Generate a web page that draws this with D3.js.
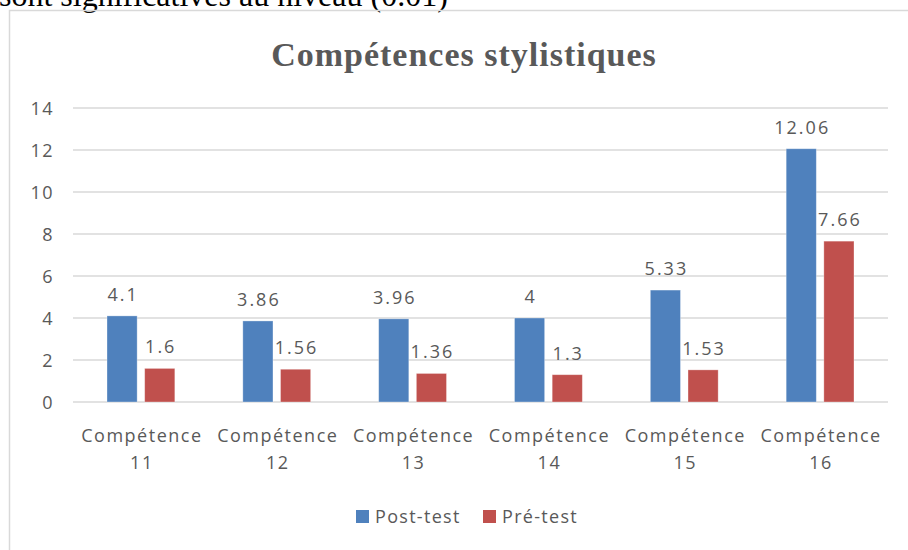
<!DOCTYPE html>
<html>
<head>
<meta charset="utf-8">
<script src="https://cdn.jsdelivr.net/npm/d3@7"></script>
<style>
  body { margin: 0; background: #fff; }
  svg text { font-family: "Open Sans", sans-serif; fill: #595959; }
</style>
</head>
<body>
<svg id="chart" width="908" height="550"></svg>
<script>
// data
var categories = ["Compétence 11", "Compétence 12", "Compétence 13", "Compétence 14", "Compétence 15", "Compétence 16"];
var postTest = [4.1, 3.86, 3.96, 4, 5.33, 12.06];
var preTest = [1.6, 1.56, 1.36, 1.3, 1.53, 7.66];
var seriesNames = ["Post-test", "Pré-test"];
var colors = ["#4f81bd", "#c0504d"];
var yTicks = [0, 2, 4, 6, 8, 10, 12, 14];

var svg = d3.select("#chart");

// leftover caption from the page above the chart (cut off like in the source)
svg.append("text")
    .attr("x", -1)
    .attr("y", 6)
    .style("font-family", "'Liberation Serif', serif")
    .style("font-size", "32px")
    .style("fill", "#000")
    .text("sont significatives au niveau (0.01)");

// chart frame
svg.append("rect")
    .attr("x", 9.5).attr("y", 10.5)
    .attr("width", 1000).attr("height", 600)
    .attr("fill", "none")
    .attr("stroke", "#d9d9d9")
    .attr("stroke-width", 1.5);

svg.append("text")
    .attr("x", 464)
    .attr("y", 66)
    .attr("text-anchor", "middle")
    .style("font-family", "'Liberation Serif', serif")
    .style("font-size", "34px")
    .style("letter-spacing", "1px")
    .style("font-weight", "bold")
    .text("Compétences stylistiques");

var x0 = d3.scaleBand().domain(categories).range([73, 888]);
var x1 = d3.scaleBand().domain(seriesNames).range([34, x0.bandwidth() - 34]).paddingInner(0.2);
var y = d3.scaleLinear().domain([0, 14]).range([402, 108]);

// gridlines
svg.append("g")
    .selectAll("line")
    .data(yTicks)
    .join("line")
    .attr("x1", 73).attr("x2", 888)
    .attr("y1", function(d){ return y(d); })
    .attr("y2", function(d){ return y(d); })
    .attr("stroke", "#d9d9d9")
    .attr("stroke-width", 1.5);

// y axis labels
var yAxis = d3.axisLeft(y).tickValues(yTicks).tickSize(0).tickPadding(0);
var ya = svg.append("g").attr("transform", "translate(54,0)").call(yAxis);
ya.select(".domain").remove();
ya.selectAll("text")
    .style("font-size", "18px")
    .style("letter-spacing", "1.5px")
    .style("font-family", "'Open Sans', sans-serif")
    .attr("fill", "#595959")
    .attr("dy", "0.35em");

var rows = categories.map(function(c, i){
    return { cat: c, vals: [postTest[i], preTest[i]] };
});

var groups = svg.append("g")
    .selectAll("g")
    .data(rows)
    .join("g")
    .attr("transform", function(d){ return "translate(" + x0(d.cat) + ",0)"; });

groups.selectAll("rect")
    .data(function(d){ return d.vals.map(function(v, j){ return { name: seriesNames[j], v: v, j: j }; }); })
    .join("rect")
    .attr("x", function(d){ return x1(d.name); })
    .attr("y", function(d){ return y(d.v); })
    .attr("width", x1.bandwidth())
    .attr("height", function(d){ return y(0) - y(d.v); })
    .attr("fill", function(d){ return colors[d.j]; })
    .attr("stroke", "#fff")
    .attr("stroke-opacity", 0.4)
    .attr("stroke-width", 0.8);

groups.selectAll("text.val")
    .data(function(d){ return d.vals.map(function(v, j){ return { name: seriesNames[j], v: v }; }); })
    .join("text")
    .attr("class", "val")
    .attr("x", function(d){ return x1(d.name) + x1.bandwidth() / 2 + 1; })
    .attr("y", function(d){ return y(d.v) - 15; })
    .attr("text-anchor", "middle")
    .style("font-size", "18px")
    .style("letter-spacing", "2px")
    .text(function(d){ return d.v; });

// category labels on two lines
var xl = svg.append("g")
    .selectAll("text")
    .data(categories)
    .join("text")
    .attr("text-anchor", "middle")
    .style("font-size", "18px")
    .style("letter-spacing", "1.5px")
    .attr("y", 442);
xl.each(function(d){
    var parts = d.split(" ");
    var t = d3.select(this);
    var cx = x0(d) + x0.bandwidth() / 2 + 1;
    t.append("tspan").attr("x", cx).text(parts[0]);
    t.append("tspan").attr("x", cx).attr("dy", 27).text(parts[1]);
});

// legend
var legend = svg.append("g");
var legX = [356, 483];
seriesNames.forEach(function(n, i){
    legend.append("rect")
        .attr("x", legX[i]).attr("y", 510)
        .attr("width", 13).attr("height", 13)
        .attr("fill", colors[i]);
    legend.append("text")
        .attr("x", legX[i] + 19).attr("y", 523)
        .style("font-size", "18px")
        .style("letter-spacing", "1.3px")
        .text(n);
});
</script>
</body>
</html>
